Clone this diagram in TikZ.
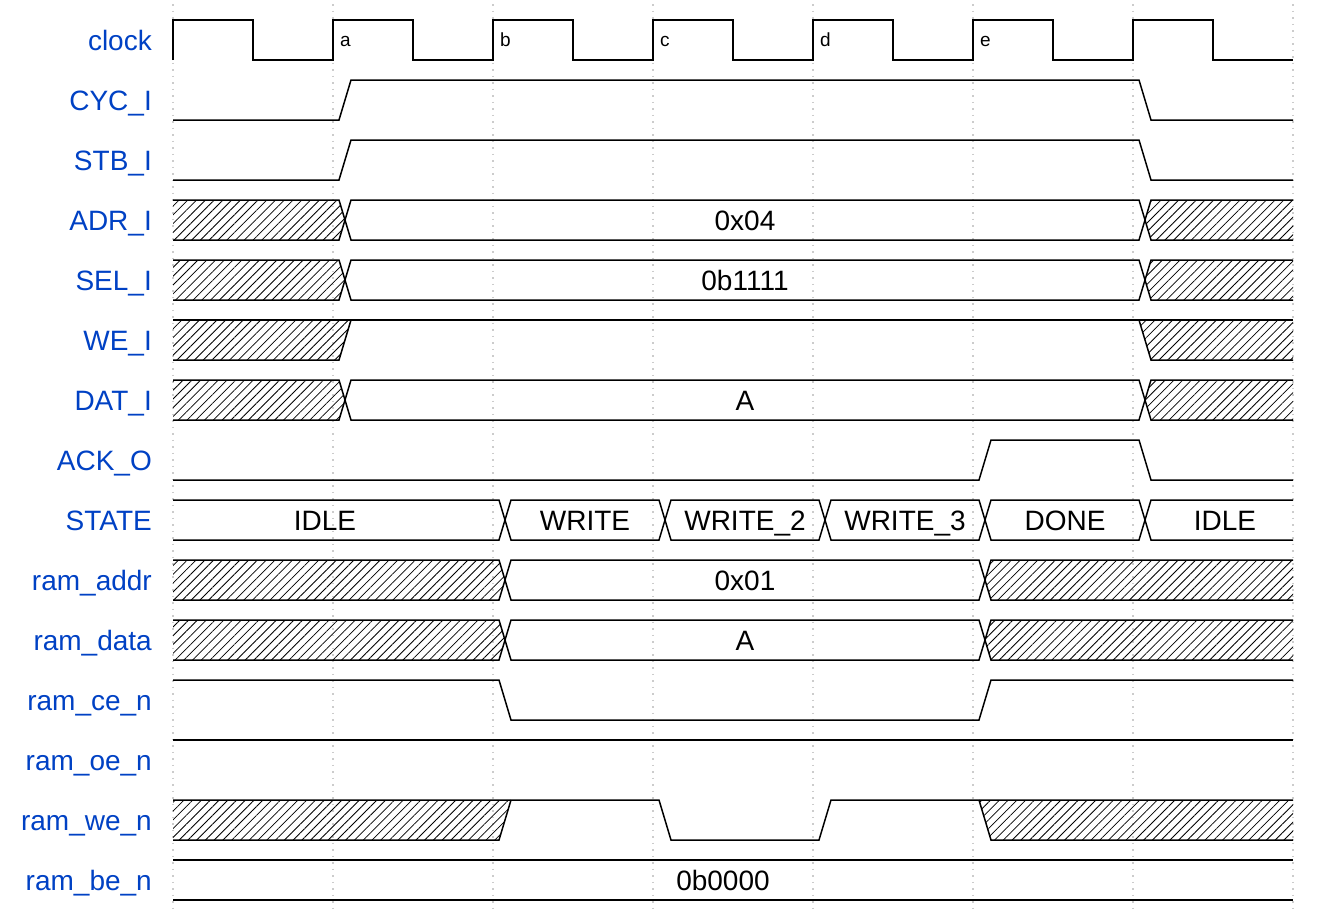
\documentclass[tikz,border=0pt]{standalone}
\usepackage{fontspec}
\setmainfont{Liberation Sans}
\usetikzlibrary{patterns.meta}
\definecolor{lbl}{HTML}{0041C4}
\tikzset{
  wave/.style={line width=1.5pt},
  hatch/.style={pattern={Lines[angle=45,distance=6.2pt,line width=0.8pt]}},
  signame/.style={anchor=base east, text=lbl, font=\fontsize{28}{30}\selectfont, inner sep=0pt},
  valtext/.style={anchor=base, font=\fontsize{28}{30}\selectfont, inner sep=0pt},
  ticklbl/.style={anchor=base west, font=\fontsize{19}{21}\selectfont, inner sep=0pt},
  gridline/.style={gray!40, line width=1.2pt, dash pattern=on 1.5pt off 5pt}
}
% closed bus segment between two crossings
\newcommand\busseg[5]{%
  \draw[wave] (#2,#1) -- (#2+6,#1-20) -- (#3-6,#1-20) -- (#3,#1) -- (#3-6,#1+20) -- (#2+6,#1+20) -- cycle;
  \node[valtext] (#5) at ({(#2+#3)/2},#1+10) {#4};}
% hatched segment from the left edge to a crossing
\newcommand\hatchstart[2]{%
  \fill[hatch] (173,#1-20) -- (#2-6,#1-20) -- (#2,#1) -- (#2-6,#1+20) -- (173,#1+20) -- cycle;
  \draw[wave] (173,#1-20) -- (#2-6,#1-20) -- (#2,#1) -- (#2-6,#1+20) -- (173,#1+20);}
% hatched segment from a crossing to the right edge
\newcommand\hatchend[2]{%
  \fill[hatch] (1293,#1-20) -- (#2+6,#1-20) -- (#2,#1) -- (#2+6,#1+20) -- (1293,#1+20) -- cycle;
  \draw[wave] (1293,#1-20) -- (#2+6,#1-20) -- (#2,#1) -- (#2+6,#1+20) -- (1293,#1+20);}
\begin{document}
\begin{tikzpicture}[x=1pt,y=-1pt]
\useasboundingbox (0,0) rectangle (1318,914);
% grid
\foreach \k in {0,...,7} \draw[gridline] (173+160*\k,4) -- (173+160*\k,912);
% signal names
\foreach \n/\t [count=\r from 0] in {nclk/clock,ncyc/CYC\_I,nstb/STB\_I,nadr/ADR\_I,nsel/SEL\_I,nwe/WE\_I,ndat/DAT\_I,nack/ACK\_O,nst/STATE,nraddr/ram\_addr,nrdata/ram\_data,nce/ram\_ce\_n,noe/ram\_oe\_n,nrwe/ram\_we\_n,nbe/ram\_be\_n}
  \node[signame] (\n) at (152,50+60*\r) {\t};
% clock
\draw[wave] (173,60)--(173,20)--(253,20)--(253,60)--(333,60)--(333,20)--(413,20)--(413,60)--(493,60)--(493,20)--(573,20)--(573,60)--(653,60)--(653,20)--(733,20)--(733,60)--(813,60)--(813,20)--(893,20)--(893,60)--(973,60)--(973,20)--(1053,20)--(1053,60)--(1133,60)--(1133,20)--(1213,20)--(1213,60)--(1293,60);
\node[ticklbl] (ta) at (340,46) {a};
\node[ticklbl] (tb) at (500,46) {b};
\node[ticklbl] (tc) at (660,46) {c};
\node[ticklbl] (td) at (820,46) {d};
\node[ticklbl] (te) at (980,46) {e};
% CYC_I, STB_I
\draw[wave] (173,120)--(339,120)--(351,80)--(1139,80)--(1151,120)--(1293,120);
\draw[wave] (173,180)--(339,180)--(351,140)--(1139,140)--(1151,180)--(1293,180);
% ADR_I
\hatchstart{220}{345}
\busseg{220}{345}{1145}{0x04}{vadr}
\hatchend{220}{1145}
% SEL_I
\hatchstart{280}{345}
\busseg{280}{345}{1145}{0b1111}{vsel}
\hatchend{280}{1145}
% WE_I
\fill[hatch] (173,320)--(351,320)--(339,360)--(173,360)--cycle;
\fill[hatch] (1139,320)--(1293,320)--(1293,360)--(1151,360)--cycle;
\draw[wave] (173,320)--(1293,320);
\draw[wave] (173,360)--(339,360)--(351,320);
\draw[wave] (1139,320)--(1151,360)--(1293,360);
% DAT_I
\hatchstart{400}{345}
\busseg{400}{345}{1145}{A}{vdat}
\hatchend{400}{1145}
% ACK_O
\draw[wave] (173,480)--(979,480)--(991,440)--(1139,440)--(1151,480)--(1293,480);
% STATE
\draw[wave] (173,500)--(499,500)--(505,520)--(499,540)--(173,540);
\node[valtext] (vidle1) at (325,530) {IDLE};
\busseg{520}{505}{665}{WRITE}{vwr}
\busseg{520}{665}{825}{WRITE\_2}{vwr2}
\busseg{520}{825}{985}{WRITE\_3}{vwr3}
\busseg{520}{985}{1145}{DONE}{vdone}
\draw[wave] (1293,500)--(1151,500)--(1145,520)--(1151,540)--(1293,540);
\node[valtext] (vidle2) at (1225,530) {IDLE};
% ram_addr
\hatchstart{580}{505}
\busseg{580}{505}{985}{0x01}{vraddr}
\hatchend{580}{985}
% ram_data
\hatchstart{640}{505}
\busseg{640}{505}{985}{A}{vrdata}
\hatchend{640}{985}
% ram_ce_n
\draw[wave] (173,680)--(499,680)--(511,720)--(979,720)--(991,680)--(1293,680);
% ram_oe_n
\draw[wave] (173,740)--(1293,740);
% ram_we_n
\fill[hatch] (173,800)--(511,800)--(499,840)--(173,840)--cycle;
\fill[hatch] (979,800)--(1293,800)--(1293,840)--(991,840)--cycle;
\draw[wave] (173,800)--(659,800)--(671,840)--(819,840)--(831,800)--(1293,800);
\draw[wave] (173,840)--(499,840)--(511,800);
\draw[wave] (979,800)--(991,840)--(1293,840);
% ram_be_n
\draw[wave] (173,860)--(1293,860);
\draw[wave] (173,900)--(1293,900);
\node[valtext] (vbe) at (723,890) {0b0000};
\end{tikzpicture}
\end{document}
